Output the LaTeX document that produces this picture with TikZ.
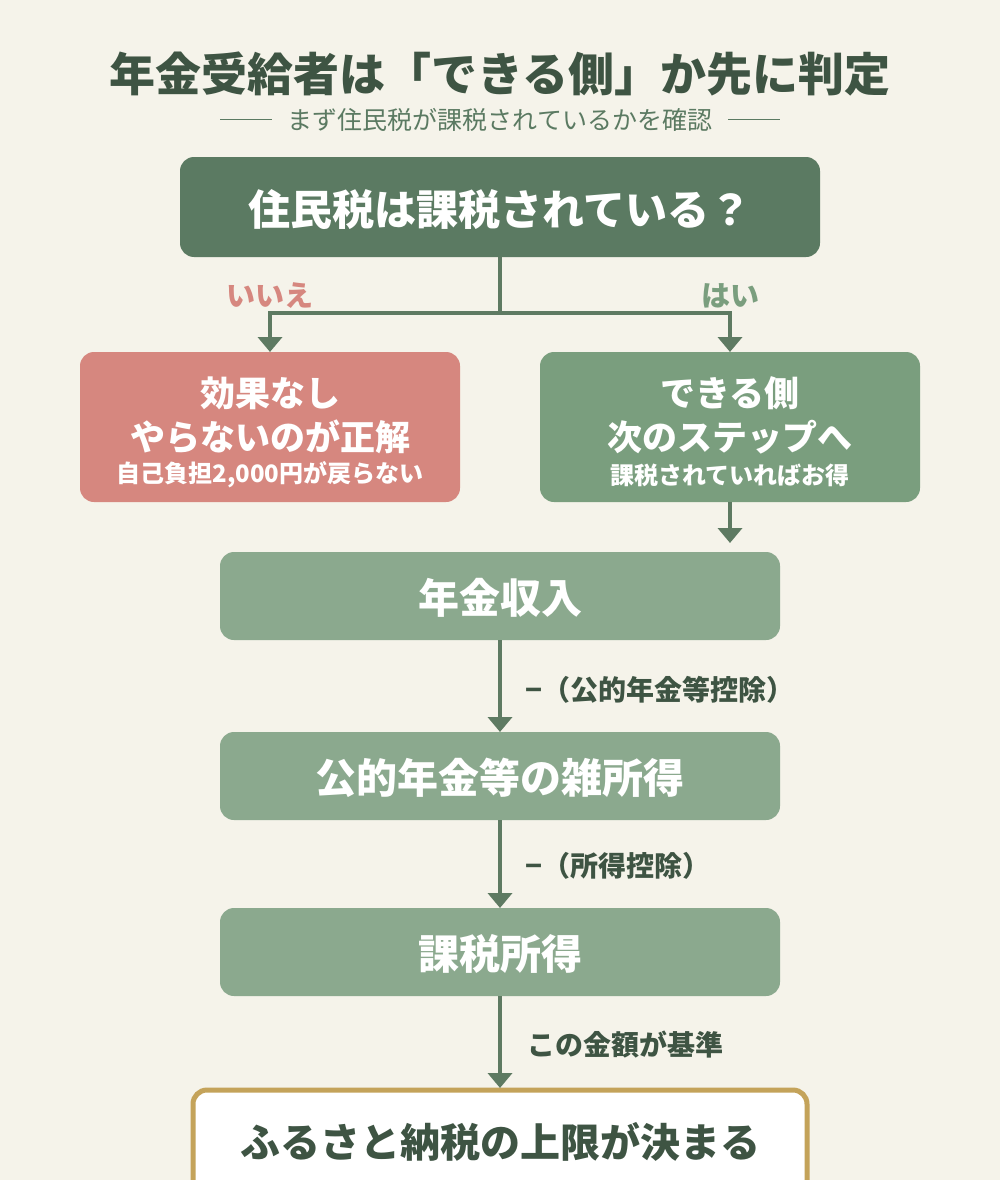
\documentclass[tikz,border=0pt]{standalone}
\usepackage{fontspec}
\setmainfont{Noto Sans CJK JP}
\usetikzlibrary{arrows.meta}
\definecolor{bg}{HTML}{F5F3EA}
\definecolor{dk}{HTML}{3E5443}
\definecolor{topc}{HTML}{5B7A62}
\definecolor{noc}{HTML}{D6877F}
\definecolor{yesc}{HTML}{7A9E7E}
\definecolor{midc}{HTML}{8BA98E}
\definecolor{arr}{HTML}{5E7A62}
\definecolor{gold}{HTML}{C4A35A}
\tikzset{
 box/.style={rounded corners=14pt,inner sep=0pt},
 con/.style={draw=arr,line width=4.5pt,-{Triangle[length=15pt,width=24pt]}},
 lab/.style={anchor=west,text=dk,font=\bfseries\fontsize{28}{32}\selectfont}
}
\begin{document}
\begin{tikzpicture}[x=1pt,y=-1pt]
\fill[bg] (0,0) rectangle (1000,1180);
\useasboundingbox (0,0) rectangle (1000,1180);
\node[text=dk,font=\bfseries\fontsize{46}{52}\selectfont] (title) at (500,74) {年金受給者は「できる側」か先に判定};
\node[text=topc,font=\fontsize{25}{28}\selectfont] (sub) at (500,120) {まず住民税が課税されているかを確認};
\coordinate (s1) at (220,120); \coordinate (s2) at (272,120);
\coordinate (s3) at (728,120); \coordinate (s4) at (780,120);
\draw[topc,line width=1pt] (s1) -- (s2) (s3) -- (s4);
% top
\fill[topc,box] (180,157) rectangle (820,257);
\node[text=white,font=\bfseries\fontsize{42}{48}\selectfont] (q) at (500,210) {住民税は課税されている？};
\coordinate (qb) at (500,257);
\coordinate (j) at (500,313);
\coordinate (jl) at (270,313);
\coordinate (jr) at (730,313);
% left
\fill[noc,box] (80,352) rectangle (460,502);
\node[text=white,font=\bfseries\fontsize{35}{40}\selectfont] (l1) at (270,393) {効果なし};
\node[text=white,font=\bfseries\fontsize{35}{40}\selectfont] (l2) at (270,437) {やらないのが正解};
\node[text=white,font=\bfseries\fontsize{24}{28}\selectfont] (l3) at (270,475) {自己負担2,000円が戻らない};
% right
\fill[yesc,box] (540,352) rectangle (920,502);
\node[text=white,font=\bfseries\fontsize{35}{40}\selectfont] (r1) at (730,393) {できる側};
\node[text=white,font=\bfseries\fontsize{35}{40}\selectfont] (r2) at (730,437) {次のステップへ};
\node[text=white,font=\bfseries\fontsize{24}{28}\selectfont] (r3) at (730,475) {課税されていればお得};
\draw[draw=arr,line width=4.5pt] (qb) -- (j);
\draw[draw=arr,line width=4.5pt,line cap=rect] (jl) -- (jr);
\draw[con] (jl) -- (270,352);
\draw[con] (jr) -- (730,352);
\node[text=noc,font=\bfseries\fontsize{29}{32}\selectfont] (no) at (270,296) {いいえ};
\node[text=yesc,font=\bfseries\fontsize{29}{32}\selectfont] (yes) at (730,296) {はい};
% chain
\fill[midc,box] (220,552) rectangle (780,640);
\node[text=white,font=\bfseries\fontsize{41}{46}\selectfont] (b1) at (500,598) {年金収入};
\fill[midc,box] (220,732) rectangle (780,820);
\node[text=white,font=\bfseries\fontsize{41}{46}\selectfont] (b2) at (500,778) {公的年金等の雑所得};
\fill[midc,box] (220,908) rectangle (780,996);
\node[text=white,font=\bfseries\fontsize{41}{46}\selectfont] (b3) at (500,954) {課税所得};
\draw[fill=white,draw=gold,line width=5pt,rounded corners=14pt] (193,1090) rectangle (807,1200);
\node[text=dk,font=\bfseries\fontsize{40}{46}\selectfont] (b4) at (500,1142) {ふるさと納税の上限が決まる};
\draw[con] (730,502) -- (730,543);
\draw[con] (500,640) -- (500,732);
\draw[con] (500,820) -- (500,908);
\draw[con] (500,996) -- (500,1088);
\node[lab] (e1) at (522,690) {−（公的年金等控除）};
\node[lab] (e2) at (522,866) {−（所得控除）};
\node[lab] (e3) at (524,1045) {この金額が基準};
\end{tikzpicture}
\end{document}
